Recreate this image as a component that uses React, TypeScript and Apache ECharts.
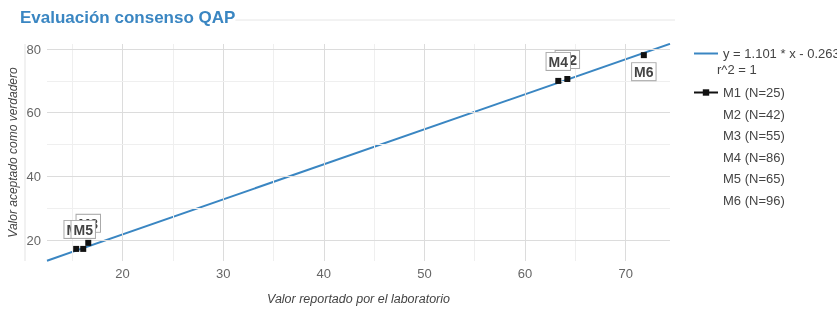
import React, { useEffect, useRef } from "react";
import * as echarts from "echarts";

const titleText = "Evaluación consenso QAP";
const xAxisTitle = "Valor reportado por el laboratorio";
const yAxisTitle = "Valor aceptado como verdadero";

const pointLabels = ["M1", "M2", "M3", "M4", "M5", "M6"];
const pointNames = ["M1 (N=25)", "M2 (N=42)", "M3 (N=55)", "M4 (N=86)", "M5 (N=65)", "M6 (N=96)"];
const reportedValues = [15.4, 64.2, 16.6, 63.3, 16.1, 71.8];
const acceptedValues = [17.2, 70.6, 19.1, 70.0, 17.2, 78.1];

const slope = 1.101;
const intercept = -0.263;
const r2 = 1;

const xRange = [12.5, 74.4];
const yRange = [13.4, 81.6];
const xTickLabels = [20, 30, 40, 50, 60, 70];
const yTickLabels = [20, 40, 60, 80];
const xMinorGrid = [15, 25, 35, 45, 55, 65];
const yMinorGrid = [30, 50, 70];

const FONT = "'Liberation Sans', Arial, sans-serif";

export default function App() {
  const ref = useRef<HTMLDivElement>(null);
  useEffect(() => {
    if (!ref.current) return;
    const chart = echarts.init(ref.current, undefined, { renderer: "svg" });
    const regName = `y = ${slope} * x - ${Math.abs(intercept)}`;

    const gridMark = {
      symbol: "none",
      silent: true,
      animation: false,
      label: { show: false },
      data: [
        ...xTickLabels.map((v) => ({ xAxis: v, lineStyle: { color: "#dcdcdc", width: 1, type: "solid" } })),
        ...xMinorGrid.map((v) => ({ xAxis: v, lineStyle: { color: "#efefef", width: 1, type: "solid" } })),
        ...yTickLabels.map((v) => ({ yAxis: v, lineStyle: { color: "#dcdcdc", width: 1, type: "solid" } })),
        ...yMinorGrid.map((v) => ({ yAxis: v, lineStyle: { color: "#efefef", width: 1, type: "solid" } })),
      ],
    };

    const pointSeries = pointNames.map((name, i) => {
      const below = pointLabels[i] === "M6";
      return {
        name,
        type: "line",
        data: [[reportedValues[i], acceptedValues[i]]],
        symbol: "rect",
        symbolSize: 6,
        itemStyle: { color: "#111" },
        lineStyle: { color: "#111", width: 1 },
        z: 5 + i,
        label: {
          show: true,
          formatter: pointLabels[i],
          position: below ? "bottom" : "top",
          distance: below ? 5 : 8,
          backgroundColor: "#fff",
          borderColor: "#aaa",
          borderWidth: 1,
          padding: [2, 2, 1, 2],
          fontFamily: FONT,
          fontWeight: "bold",
          fontSize: 14,
          color: "#444",
        },
      };
    });

    chart.setOption({
      animation: false,
      textStyle: { fontFamily: FONT },
      title: {
        text: titleText,
        left: 20,
        top: 9,
        padding: 0,
        backgroundColor: "#fff",
        textStyle: { fontFamily: FONT, fontWeight: "bold", fontSize: 17, color: "#3a86c2" },
      },
      grid: {
        left: 47,
        right: 837 - 670,
        top: 44,
        bottom: 314 - 261,
        containLabel: false,
        outerBoundsMode: "none",
      },
      legend: [
        {
          left: 688,
          top: 42,
          orient: "vertical",
          itemWidth: 24,
          itemHeight: 8,
          itemGap: 7,
          textStyle: { fontFamily: FONT, fontSize: 13, color: "#444" },
          data: [{ name: regName, itemStyle: { opacity: 0 } }],
          selectedMode: false,
        },
        {
          left: 688,
          top: 81,
          orient: "vertical",
          itemWidth: 24,
          itemHeight: 8,
          itemGap: 8.5,
          textStyle: { fontFamily: FONT, fontSize: 13, color: "#444" },
          selectedMode: false,
          data: pointNames.map((n, i) =>
            i === 0 ? { name: n } : { name: n, itemStyle: { opacity: 0 }, lineStyle: { opacity: 0 } }
          ),
        },
      ],
      xAxis: {
        type: "value",
        min: xRange[0],
        max: xRange[1],
        name: xAxisTitle,
        nameLocation: "middle",
        nameGap: 31,
        nameMoveOverlap: false,
        nameTextStyle: { fontFamily: FONT, fontStyle: "italic", fontSize: 12.5, color: "#444" },
        axisLine: { show: false },
        axisTick: { show: false },
        splitLine: { show: false },
        axisLabel: { customValues: xTickLabels, color: "#666", fontSize: 13, fontFamily: FONT, margin: 6 },
      },
      yAxis: {
        type: "value",
        min: yRange[0],
        max: yRange[1],
        name: yAxisTitle,
        nameLocation: "middle",
        nameGap: 28,
        nameMoveOverlap: false,
        nameTextStyle: { fontFamily: FONT, fontStyle: "italic", fontSize: 12, color: "#444" },
        axisLine: { show: false },
        axisTick: { show: false },
        splitLine: { show: false },
        axisLabel: { customValues: yTickLabels, color: "#666", fontSize: 13, fontFamily: FONT, margin: 6 },
      },
      graphic: [
        { type: "line", shape: { x1: 25, y1: 44, x2: 25, y2: 261 }, style: { stroke: "#e3e3e3", lineWidth: 1 }, silent: true },
        { type: "line", shape: { x1: 25, y1: 20, x2: 675, y2: 20 }, style: { stroke: "#e6e6e6", lineWidth: 1 }, silent: true, z: -1 },
        {
          type: "text",
          left: 717,
          top: 63,
          style: { text: `r^2 = ${r2}`, font: `13px ${FONT}`, fill: "#444" },
        },
      ],
      series: [
        {
          name: "__grid",
          type: "line",
          data: [],
          z: 1,
          markLine: gridMark,
        },
        {
          name: regName,
          type: "line",
          data: xRange.map((x) => [x, slope * x + intercept]),
          symbol: "none",
          lineStyle: { color: "#3a86c2", width: 2 },
          itemStyle: { color: "#3a86c2" },
          z: 3,
        },
        ...pointSeries,
      ],
    });
    return () => chart.dispose();
  }, []);
  return <div ref={ref} style={{ position: "fixed", left: 0, top: 0, width: 837, height: 314 }} />;
}
